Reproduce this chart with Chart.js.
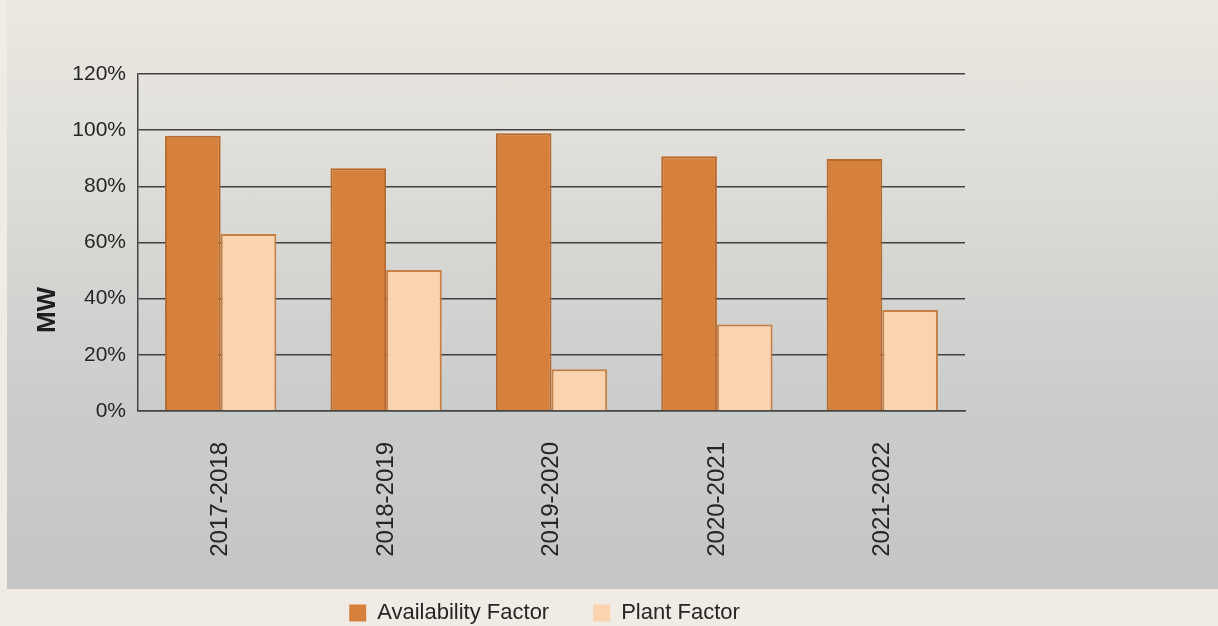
<!DOCTYPE html>
<html>
<head>
<meta charset="utf-8">
<script src="https://cdn.jsdelivr.net/npm/chart.js@4/dist/chart.umd.min.js"></script>
<style>
  html, body { margin: 0; padding: 0; width: 1218px; height: 626px; overflow: hidden; background: #f0ebe4; }
  #panel { position: absolute; left: 7px; top: 0; width: 1211px; height: 589px;
    background: linear-gradient(to bottom, #ece8e1 0%, #e0dfda 25%, #d3d3d1 50%, #cacccc 70%, #c9caca 80%, #c5c5c3 100%); }
  #c { position: absolute; left: 0; top: 0; }
</style>
</head>
<body>
<div id="panel"></div>
<canvas id="c" width="1218" height="634"></canvas>
<script>
const categories = ['2017-2018', '2018-2019', '2019-2020', '2020-2021', '2021-2022'];
const availabilityFactor = [98.0, 86.4, 98.9, 90.7, 89.7];
const plantFactor = [63.0, 50.2, 14.9, 30.8, 36.0];
const seriesNames = ['Availability Factor', 'Plant Factor'];
const yTicks = [0, 20, 40, 60, 80, 100, 120];
const yTitle = 'MW';

const textColor = '#262626';

const yTitlePlugin = {
  id: 'yTitle',
  afterLayout(chart) {
    // centre the legend under the same span as the reference
    const lg = chart.legend;
    if (lg) { lg.left = 124; lg.right = 965; }
  },
  afterDraw(chart) {
    const ctx = chart.ctx;
    ctx.save();
    ctx.translate(48, 310);
    ctx.rotate(-Math.PI / 2);
    ctx.font = 'bold 26px "Liberation Sans", Arial, sans-serif';
    ctx.fillStyle = '#1e1e1e';
    ctx.textAlign = 'center';
    ctx.textBaseline = 'middle';
    ctx.fillText(yTitle, 0, 0);
    ctx.restore();
  }
};

new Chart(document.getElementById('c'), {
  type: 'bar',
  data: {
    labels: categories,
    datasets: [
      { label: seriesNames[0], data: availabilityFactor, backgroundColor: '#d5803b', borderColor: '#b8692b', borderWidth: 2,
        categoryPercentage: 0.673, barPercentage: 1.0 },
      { label: seriesNames[1], data: plantFactor, backgroundColor: '#fbd3af', borderColor: '#c67f45', borderWidth: 2,
        categoryPercentage: 0.673, barPercentage: 1.0 }
    ]
  },
  options: {
    responsive: false,
    animation: false,
    layout: { padding: { left: 0, right: 253, top: 74, bottom: 0 } },
    plugins: {
      legend: {
        position: 'bottom',
        labels: {
          boxWidth: 17, boxHeight: 17, padding: 44,
          color: textColor,
          font: { family: '"Liberation Sans", Arial, sans-serif', size: 22 },
          generateLabels: (chart) => Chart.defaults.plugins.legend.labels.generateLabels(chart).map(l => Object.assign(l, { lineWidth: 0, strokeStyle: 'rgba(0,0,0,0)' }))
        }
      },
      tooltip: { enabled: false }
    },
    scales: {
      x: {
        afterFit(scale) { scale.height = 147; },
        grid: { display: false, drawTicks: false },
        border: { display: true, color: '#444', width: 1.5 },
        ticks: {
          color: textColor, minRotation: 90, maxRotation: 90, padding: 31,
          font: { family: '"Liberation Sans", Arial, sans-serif', size: 24 }
        }
      },
      y: {
        min: 0, max: 120,
        afterFit(scale) { scale.width = 138; },
        afterBuildTicks(scale) { scale.ticks = yTicks.map(v => ({ value: v })); },
        grid: { color: '#404040', lineWidth: 1.5, drawTicks: false },
        border: { display: true, color: '#444', width: 1.5 },
        ticks: {
          color: textColor, padding: 12,
          font: { family: '"Liberation Sans", Arial, sans-serif', size: 21 },
          callback: (v) => v + '%'
        }
      }
    }
  },
  plugins: [yTitlePlugin]
});
</script>
</body>
</html>
